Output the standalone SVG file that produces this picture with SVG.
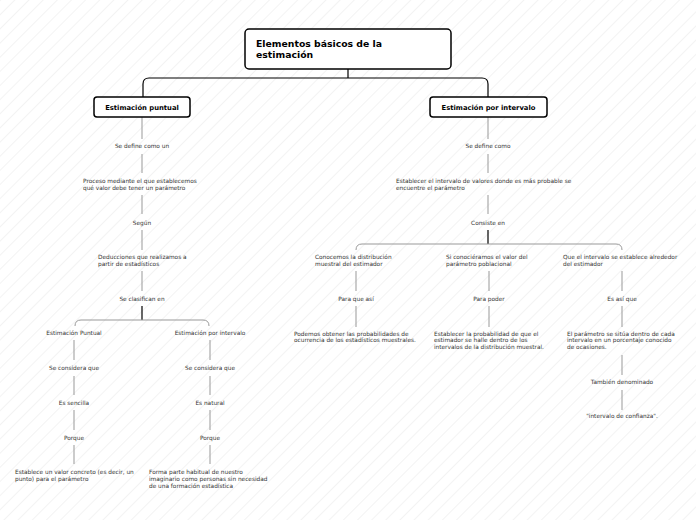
<svg xmlns="http://www.w3.org/2000/svg" width="696" height="520" viewBox="0 0 696 520">
<defs>
<pattern id="hatch" width="10" height="10" patternUnits="userSpaceOnUse" patternTransform="rotate(45)">
<line x1="0" y1="0" x2="0" y2="10" stroke="#e2e2e2" stroke-width="0.8"/>
</pattern>
</defs>
<style>
.box{fill:#fff;stroke:#000;stroke-width:1.5}
.t{font-family:"DejaVu Sans",Verdana,sans-serif;font-size:5.8px;fill:#333}
.c{text-anchor:middle}
.tb{font-family:"DejaVu Sans",Verdana,sans-serif;font-weight:bold;fill:#000}
.ln{fill:none;stroke:#999;stroke-width:1}
.dk{fill:none;stroke:#000;stroke-width:1.2}
</style>
<rect width="696" height="520" fill="#fff"/>
<rect width="696" height="520" fill="url(#hatch)"/>

<g id="connectors">
<path class="dk" d="M348,69 V78 M143,97 V84 Q143,78 149,78 H482 Q488,78 488,84 V97"/>
<!-- left column -->
<path class="ln" d="M142,117 V139 M142,154 V173 M142,195 V214 M142,230 V250 M142,271 V291"/>
<path class="dk" d="M142,306 V320"/>
<path class="ln" d="M75,326 Q75,320 81,320 H203 Q209,320 209,326"/>
<path class="ln" d="M74,340 V360 M74,376 V395 M74,410 V430 M74,445 V464"/>
<path class="ln" d="M210,340 V360 M210,376 V395 M210,410 V430 M210,445 V464"/>
<!-- right column -->
<path class="ln" d="M488,117 V139 M488,154 V173 M488,195 V214"/>
<path class="dk" d="M488,230 V244"/>
<path class="ln" d="M356,250 Q356,244 362,244 H616 Q622,244 622,250"/>
<path class="ln" d="M356,271 V291 M356,306 V327"/>
<path class="ln" d="M489,271 V291 M489,306 V327"/>
<path class="ln" d="M622,271 V291 M622,306 V327 M622,355 V375 M622,390 V410"/>
</g>

<g id="root">
<rect class="box" x="245" y="29" width="206" height="40" rx="4"/>
<text class="tb" x="256" y="47" font-size="9.3">Elementos básicos de la</text>
<text class="tb" x="256" y="58" font-size="9.3">estimación</text>
</g>
<g id="puntual">
<rect class="box" x="94" y="97" width="96" height="20" rx="3"/>
<text class="tb c" x="142" y="109.5" font-size="6.8">Estimación puntual</text>
</g>
<g id="intervalo">
<rect class="box" x="430" y="97" width="117" height="20" rx="3"/>
<text class="tb c" x="488.5" y="109.5" font-size="6.8">Estimación por intervalo</text>
</g>

<g id="left-labels">
<text class="t c" x="142" y="148">Se define como un</text>
<text class="t" x="83" y="183">Proceso mediante el que establecemos</text>
<text class="t" x="83" y="190">qué valor debe tener un parámetro</text>
<text class="t c" x="142" y="225">Según</text>
<text class="t" x="98" y="259">Deducciones que realizamos a</text>
<text class="t" x="98" y="266">partir de estadísticos</text>
<text class="t c" x="142" y="301">Se clasifican en</text>
<text class="t c" x="74" y="335">Estimación Puntual</text>
<text class="t c" x="74" y="370">Se considera que</text>
<text class="t c" x="74" y="405">Es sencilla</text>
<text class="t c" x="74" y="440">Porque</text>
<text class="t" x="15" y="474">Establece un valor concreto (es decir, un</text>
<text class="t" x="15" y="481">punto) para el parámetro</text>
<text class="t c" x="210" y="335">Estimación por intervalo</text>
<text class="t c" x="210" y="370">Se considera que</text>
<text class="t c" x="210" y="405">Es natural</text>
<text class="t c" x="210" y="440">Porque</text>
<text class="t" x="149" y="474">Forma parte habitual de nuestro</text>
<text class="t" x="149" y="481">imaginario como personas sin necesidad</text>
<text class="t" x="149" y="488">de una formación estadística</text>
</g>

<g id="right-labels">
<text class="t c" x="488" y="148">Se define como</text>
<text class="t" x="396" y="183">Establecer el intervalo de valores donde es más probable se</text>
<text class="t" x="396" y="190">encuentre el parámetro</text>
<text class="t c" x="488" y="225">Consiste en</text>
<text class="t" x="315" y="259">Conocemos la distribución</text>
<text class="t" x="315" y="266">muestral del estimador</text>
<text class="t c" x="356" y="301">Para que así</text>
<text class="t" x="294" y="336">Podemos obtener las probabilidades de</text>
<text class="t" x="294" y="342">ocurrencia de los estadísticos muestrales.</text>
<text class="t" x="446" y="259">Si conociéramos el valor del</text>
<text class="t" x="446" y="266">parámetro poblacional</text>
<text class="t c" x="489" y="301">Para poder</text>
<text class="t" x="434" y="336">Establecer la probabilidad de que el</text>
<text class="t" x="434" y="342">estimador se halle dentro de los</text>
<text class="t" x="434" y="349">intervalos de la distribución muestral.</text>
<text class="t" x="563" y="259">Que el intervalo se establece alrededor</text>
<text class="t" x="563" y="266">del estimador</text>
<text class="t c" x="622" y="301">Es así que</text>
<text class="t" x="567" y="336">El parámetro se sitúa dentro de cada</text>
<text class="t" x="567" y="342">intervalo en un porcentaje conocido</text>
<text class="t" x="567" y="349">de ocasiones.</text>
<text class="t c" x="622" y="384">También denominado</text>
<text class="t c" x="622" y="418">"intervalo de confianza".</text>
</g>
</svg>
